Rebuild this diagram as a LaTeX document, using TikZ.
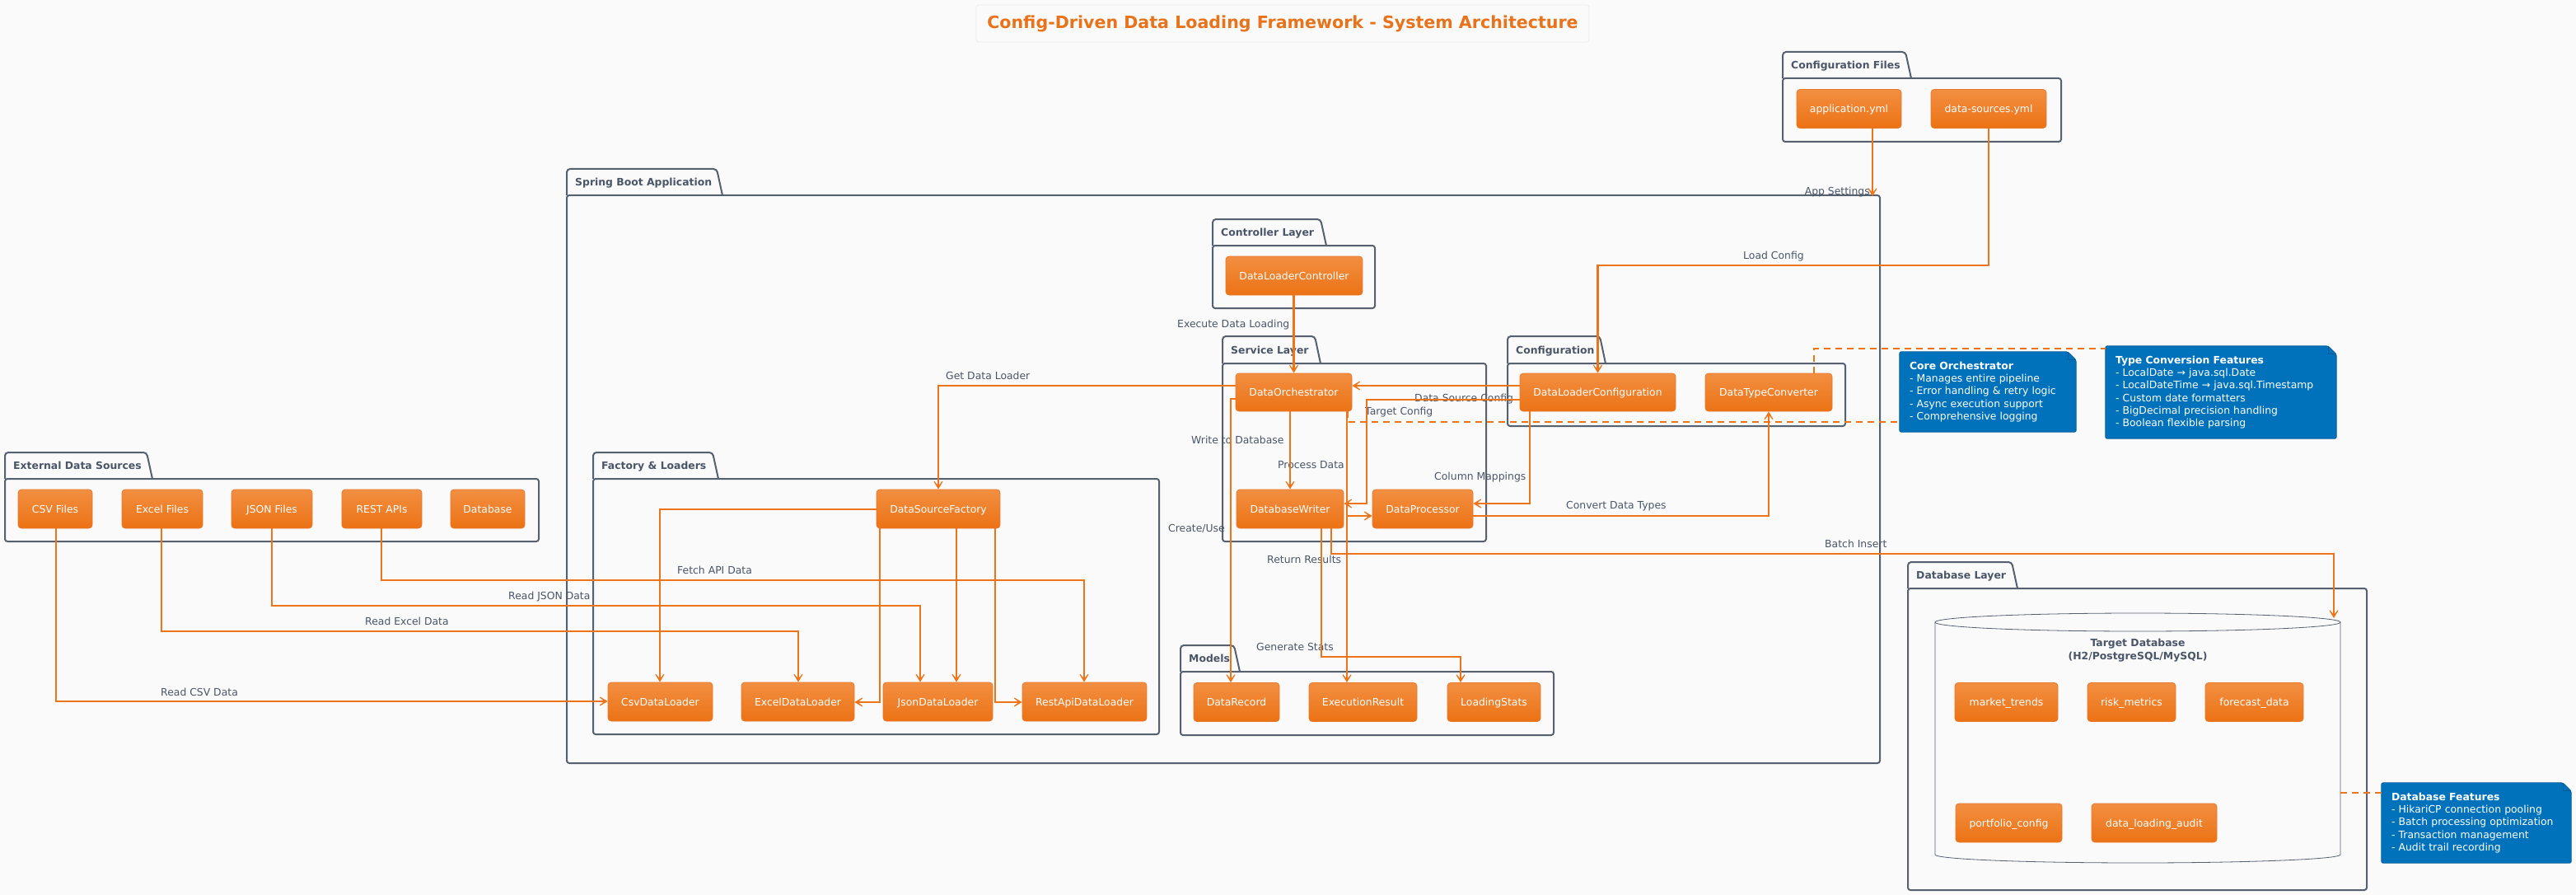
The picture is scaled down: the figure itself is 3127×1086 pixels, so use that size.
\documentclass[tikz,border=0pt]{standalone}
\usepackage{fontspec}
\setmainfont{DejaVu Sans}
\usepackage{tikz}
\usetikzlibrary{arrows.meta, backgrounds}
\usepackage{xcolor}

\definecolor{pagebg}{HTML}{FAFAFA}
\definecolor{boxtop}{HTML}{F28F42}
\definecolor{boxbot}{HTML}{EC7214}
\definecolor{boxline}{HTML}{E8782A}
\definecolor{flowcol}{HTML}{EE7419}
\definecolor{pkgcol}{HTML}{56606E}
\definecolor{lblcol}{HTML}{4A5568}
\definecolor{notecol}{HTML}{0072BB}
\definecolor{noteline}{HTML}{005B96}
\definecolor{ttlcol}{HTML}{E8731A}

\newcommand{\boxfont}{\fontsize{12.4}{15.3}\selectfont}
\newcommand{\ttlfont}{\fontsize{20.6}{24}\selectfont\bfseries}

% package frame: left, tab top, tab right, body top, right, bottom, title
\newcommand{\pkgframe}[7]{%
  \draw[pkg, rounded corners=4] (#1,#4) -- (#1,#2) -- (#3-7,#2) -- (#3,#4);
  \draw[pkg, rounded corners=3] (#1,#4) -- (#5,#4) -- (#5,#6) -- (#1,#6) -- cycle;
  \node[pkgtitle] at (#1+10,{(#2+#4)/2}) {#7};
}
% note with folded corner, drawn behind its text node
\newcommand{\foldnote}[1]{%
  \draw[notefill] (#1.north west) -- ([xshift=-10pt]#1.north east)
    -- ([yshift=-10pt]#1.north east) -- (#1.south east) -- (#1.south west) -- cycle;
  \draw[noteline, line width=0.8pt] ([xshift=-10pt]#1.north east)
    -- ([xshift=-10pt,yshift=-10pt]#1.north east) -- ([yshift=-10pt]#1.north east);
}

\tikzset{
  comp/.style={rectangle, rounded corners=4, draw=boxline, line width=0.8pt,
    top color=boxtop, bottom color=boxbot, text=white, font=\boxfont,
    minimum height=47pt, inner sep=0pt, text height=9pt, text depth=0pt},
  flow/.style={draw=flowcol, line width=2.8pt, -{Stealth[length=15pt, width=18pt, inset=11pt]}},
  notelink/.style={draw=flowcol, line width=2.8pt, dash pattern=on 8pt off 6pt},
  pkg/.style={draw=pkgcol, line width=2pt},
  pkgtitle/.style={anchor=west, inner sep=0pt, text=lblcol, font=\boxfont\bfseries,
    text height=9pt, text depth=0pt},
  lbl/.style={anchor=west, inner sep=0pt, text=lblcol, font=\boxfont,
    text height=9pt, text depth=0pt},
  note/.style={rectangle, inner xsep=12pt, inner ysep=0pt, text=white, font=\boxfont,
    align=left},
  notefill/.style={fill=notecol, draw=noteline, line width=0.8pt, rounded corners=2},
}

\begin{document}
\begin{tikzpicture}[x=1pt, y=-1pt]
  \begin{scope}[on background layer]
    \fill[pagebg] (0,0) rectangle (3127,1086);
  \end{scope}
  \useasboundingbox (0,0) rectangle (3127,1086);

  % title
  \node[draw=black!8, fill=pagebg, rounded corners=3, line width=0.8pt,
    minimum width=744pt, minimum height=45pt, text=ttlcol, font=\ttlfont]
    (title) at (1557,28.5) {Config-Driven Data Loading Framework - System Architecture};

  % packages
  \pkgframe{2164}{63}{2320}{95}{2502}{172}{Configuration Files}
  \pkgframe{688}{205}{877}{237}{2282}{926}{Spring Boot Application}
  \pkgframe{1472}{266}{1610}{298}{1669}{374}{Controller Layer}
  \pkgframe{1484}{408}{1603}{441}{1804}{657}{Service Layer}
  \pkgframe{1830}{408}{1949}{441}{2240}{517}{Configuration}
  \pkgframe{720}{549}{872}{581}{1407}{891}{Factory \& Loaders}
  \pkgframe{6}{549}{185}{581}{654}{657}{External Data Sources}
  \pkgframe{1433}{783}{1505}{815}{1886}{892}{Models}
  \pkgframe{2316}{682}{2449}{714}{2873}{1080}{Database Layer}

  % target database cylinder
  \draw[pkgcol, line width=0.8pt, fill=pagebg] (2349,755) -- (2349,1037)
    arc[start angle=180, end angle=0, x radius=246, y radius=10] -- (2841,755);
  \draw[pkgcol, line width=0.8pt, fill=pagebg] (2595,755) ellipse[x radius=246, y radius=11];
  \node[text=lblcol, font=\boxfont\bfseries, align=center, inner sep=0pt] (tdb)
    at (2595,789) {Target Database\\(H2/PostgreSQL/MySQL)};

  % configuration files
  \node[comp, minimum width=127pt] (appyml) at (2244.5,132) {application.yml};
  \node[comp, minimum width=140pt] (dsyml) at (2414,132) {data-sources.yml};
  % controller, service, configuration
  \node[comp, minimum width=166pt] (ctrl) at (1571,334.5) {DataLoaderController};
  \node[comp, minimum width=141pt, minimum height=46pt] (orch) at (1570.5,476) {DataOrchestrator};
  \node[comp, minimum width=130pt] (writer) at (1566,617.5) {DatabaseWriter};
  \node[comp, minimum width=122pt] (proc) at (1727,617.5) {DataProcessor};
  \node[comp, minimum width=189pt, minimum height=46pt] (dlcfg) at (1939.5,476) {DataLoaderConfiguration};
  \node[comp, minimum width=154pt, minimum height=46pt] (conv) at (2147,476) {DataTypeConverter};
  % factory and loaders
  \node[comp, minimum width=150pt] (factory) at (1139,617.5) {DataSourceFactory};
  \node[comp, minimum width=127pt] (csvl) at (801.5,851.5) {CsvDataLoader};
  \node[comp, minimum width=137pt] (excell) at (968.5,851.5) {ExcelDataLoader};
  \node[comp, minimum width=133pt] (jsonl) at (1138.5,851.5) {JsonDataLoader};
  \node[comp, minimum width=151pt] (restl) at (1316.5,851.5) {RestApiDataLoader};
  % external sources
  \node[comp, minimum width=90pt] (csvsrc) at (67,617.5) {CSV Files};
  \node[comp, minimum width=98pt] (excelsrc) at (197,617.5) {Excel Files};
  \node[comp, minimum width=98pt] (jsonsrc) at (330,617.5) {JSON Files};
  \node[comp, minimum width=97pt] (restsrc) at (463.5,617.5) {REST APIs};
  \node[comp, minimum width=90pt] (dbsrc) at (592,617.5) {Database};
  % models
  \node[comp, minimum width=104pt] (rec) at (1501,852) {DataRecord};
  \node[comp, minimum width=131pt] (res) at (1654.5,852) {ExecutionResult};
  \node[comp, minimum width=113pt] (stats) at (1813.5,852) {LoadingStats};
  % database tables
  \node[comp, minimum width=125pt] (trends) at (2435.5,852) {market\_trends};
  \node[comp, minimum width=107pt] (risk) at (2587.5,852) {risk\_metrics};
  \node[comp, minimum width=119pt] (fcast) at (2736.5,852) {forecast\_data};
  \node[comp, minimum width=129pt] (pconf) at (2438.5,998.5) {portfolio\_config};
  \node[comp, minimum width=152pt] (audit) at (2615,998.5) {data\_loading\_audit};

  % notes
  \node[note, text width=190pt, minimum height=97pt] (corenote) at (2413,475.5)
    {\textbf{Core Orchestrator}\\- Manages entire pipeline\\- Error handling \& retry logic\\- Async execution support\\- Comprehensive logging};
  \node[note, text width=256pt, minimum height=112pt] (typenote) at (2696,476)
    {\textbf{Type Conversion Features}\\- LocalDate → java.sql.Date\\- LocalDateTime → java.sql.Timestamp\\- Custom date formatters\\- BigDecimal precision handling\\- Boolean flexible parsing};
  \node[note, text width=206pt, minimum height=97pt] (dbnote) at (3006,998.5)
    {\textbf{Database Features}\\- HikariCP connection pooling\\- Batch processing optimization\\- Transaction management\\- Audit trail recording};
  \begin{scope}[on background layer]
    \foldnote{corenote}
    \foldnote{typenote}
    \foldnote{dbnote}
  \end{scope}

  % edge labels
  \node[lbl, anchor=east] (l-app) at (2270,232) {App Settings};
  \node[lbl] (l-load) at (2116,310) {Load Config};
  \node[lbl] (l-exec) at (1429,393) {Execute Data Loading};
  \node[lbl] (l-get) at (1148,456) {Get Data Loader};
  \node[lbl] (l-dsc) at (1717,483) {Data Source Config};
  \node[lbl] (l-tgt) at (1657,499) {Target Config};
  \node[lbl] (l-write) at (1446,534) {Write to Database};
  \node[lbl] (l-proc) at (1551,564) {Process Data};
  \node[lbl] (l-cols) at (1741,578) {Column Mappings};
  \node[lbl] (l-conv) at (1901,613) {Convert Data Types};
  \node[lbl] (l-use) at (1418,641) {Create/Use};
  \node[lbl] (l-batch) at (2215,660) {Batch Insert};
  \node[lbl] (l-ret) at (1538,679) {Return Results};
  \node[lbl] (l-api) at (822,692) {Fetch API Data};
  \node[lbl] (l-json) at (617,723) {Read JSON Data};
  \node[lbl] (l-excel) at (443,754) {Read Excel Data};
  \node[lbl] (l-csv) at (195,840) {Read CSV Data};
  \node[lbl] (l-stats) at (1525,785) {Generate Stats};

  % route points
  \coordinate (appset) at (2273,238);
  \coordinate (lcfg) at (2414,322);
  \coordinate (gdl) at (1139,468);
  \coordinate (tc1) at (1659,485);
  \coordinate (tc2) at (1659,611);
  \coordinate (cm) at (1857,611);
  \coordinate (cdt) at (2147,626);
  \coordinate (pd) at (1635,626);
  \coordinate (cu) at (1494,484);
  \coordinate (gs1) at (1604,797);
  \coordinate (gs2) at (1773,797);
  \coordinate (bi1) at (1616,672);
  \coordinate (bi2) at (2833,672);
  \coordinate (dbtop) at (2833,750);
  \coordinate (rcsv) at (68,851);
  \coordinate (rex1) at (196,766);
  \coordinate (rex2) at (969,766);
  \coordinate (rjs1) at (330,735);
  \coordinate (rjs2) at (1117,735);
  \coordinate (rapi1) at (463,704);
  \coordinate (rapi2) at (1316,704);
  \coordinate (fc) at (801,618);
  \coordinate (fe) at (1068,852);
  \coordinate (fj) at (1161,852);
  \coordinate (fr) at (1208,852);

  % connectors
  \draw[flow] (appyml.south -| appset) -- (appset);
  \draw[flow] (dsyml) -- (lcfg) -| (dlcfg);
  \draw[flow] (ctrl.south -| orch.north) -- (orch.north);
  \draw[flow] (orch.west |- gdl) -- (gdl) -- (factory.north);
  \draw[flow] (dlcfg.west |- gdl) -- (orch.east |- gdl);
  \draw[flow] (dlcfg.west |- tc1) -- (tc1) -- (tc2) -- (writer.east |- tc2);
  \draw[flow] (dlcfg.south -| cm) -- (cm) -- (proc.east |- cm);
  \draw[flow] (proc.east |- cdt) -- (cdt) -- (conv.south);
  \draw[flow] (orch.south -| writer.north) -- (writer.north);
  \draw[flow] (orch.south -| pd) -- (pd) -- (proc.west |- pd);
  \draw[flow] (orch.south -| pd) -- (res.north -| pd);
  \draw[flow] (orch.west |- cu) -- (cu) -- (rec.north -| cu);
  \draw[flow] (writer.south -| gs1) -- (gs1) -- (gs2) -- (stats.north -| gs2);
  \draw[flow] (writer.south -| bi1) -- (bi1) -- (bi2) -- (dbtop);
  \draw[flow] (csvsrc.south -| rcsv) -- (rcsv) -- (csvl.west |- rcsv);
  \draw[flow] (excelsrc.south -| rex1) -- (rex1) -- (rex2) -- (excell.north -| rex2);
  \draw[flow] (jsonsrc.south -| rjs1) -- (rjs1) -- (rjs2) -- (jsonl.north -| rjs2);
  \draw[flow] (restsrc.south -| rapi1) -- (rapi1) -- (rapi2) -- (restl.north -| rapi2);
  \draw[flow] (factory.west |- fc) -- (fc) -- (csvl.north -| fc);
  \draw[flow] (factory.south -| fe) -- (fe) -- (excell.east |- fe);
  \draw[flow] (factory.south -| fj) -- (jsonl.north -| fj);
  \draw[flow] (factory.south -| fr) -- (fr) -- (restl.west |- fr);

  % note links
  \coordinate (n1) at (1636,512);
  \coordinate (n2) at (2202,423);
  \coordinate (n3) at (2841,962);
  \draw[notelink] (orch.south -| n1) -- (n1) -- (corenote.west |- n1);
  \draw[notelink] (conv.north -| n2) -- (n2) -- (typenote.west |- n2);
  \draw[notelink] (n3) -- (dbnote.west |- n3);
\end{tikzpicture}
\end{document}
